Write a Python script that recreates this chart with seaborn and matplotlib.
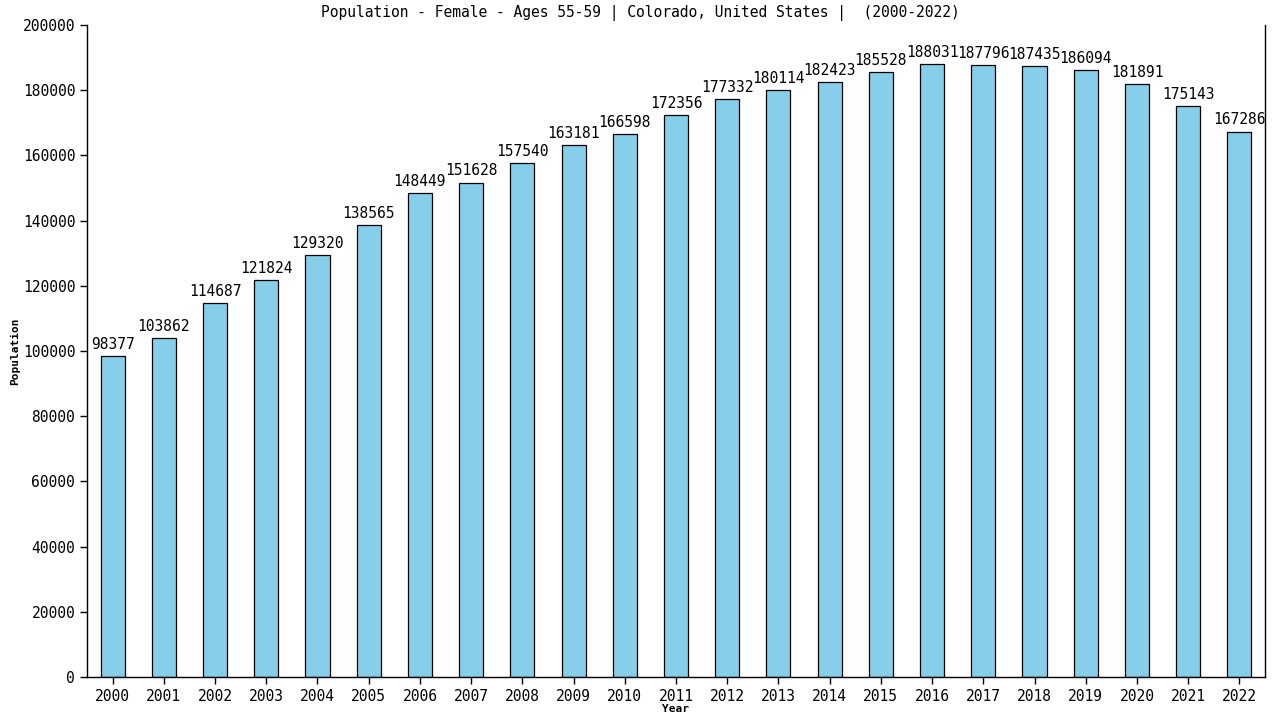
import numpy as np
import pandas as pd
import seaborn as sns
import matplotlib.pyplot as plt

years = [str(y) for y in range(2000, 2023)]
population = [98377, 103862, 114687, 121824, 129320, 138565, 148449, 151628,
              157540, 163181, 166598, 172356, 177332, 180114, 182423, 185528,
              188031, 187796, 187435, 186094, 181891, 175143, 167286]

df = pd.DataFrame({'Year': years, 'Population': population})

sns.set_style('white')
plt.rcParams['font.family'] = ['DejaVu Sans Mono', 'DejaVu Sans']
plt.rcParams['text.color'] = 'black'
plt.rcParams['axes.labelcolor'] = 'black'
plt.rcParams['xtick.color'] = 'black'
plt.rcParams['ytick.color'] = 'black'

fig = plt.figure(figsize=(12.8, 7.2), dpi=100)
ax = fig.add_axes([87/1280, 1 - 677/720, (1265 - 87)/1280, (677 - 25)/720])

sns.barplot(data=df, x='Year', y='Population', color='#87CEEB',
            edgecolor='black', linewidth=0.9, width=0.47, saturation=1, ax=ax)

for i, v in enumerate(population):
    ax.text(i, v + 1300, str(v), ha='center', va='bottom', fontsize=10.5,
            color='black')

ax.set_ylim(0, 200000)
ax.set_xlim(-0.5, 22.5)
ax.set_yticks(np.arange(0, 200001, 20000))
ax.tick_params(axis='both', direction='out', length=5, width=1, labelsize=10.5,
               left=True, bottom=True, color='black', labelcolor='black')
for s in ['left', 'bottom', 'right']:
    ax.spines[s].set_color('black')
    ax.spines[s].set_linewidth(1)
ax.spines['top'].set_visible(False)

ax.set_xlabel('Year', fontsize=8, fontweight='bold', labelpad=0)
ax.set_ylabel('Population', fontsize=8, fontweight='bold', labelpad=2)

fig.suptitle('Population - Female - Ages 55-59 | Colorado, United States |  (2000-2022)',
             x=0.5, y=1 - 13/720, va='center', fontsize=10.5, color='black')

fig.savefig('out.png', dpi=100)
